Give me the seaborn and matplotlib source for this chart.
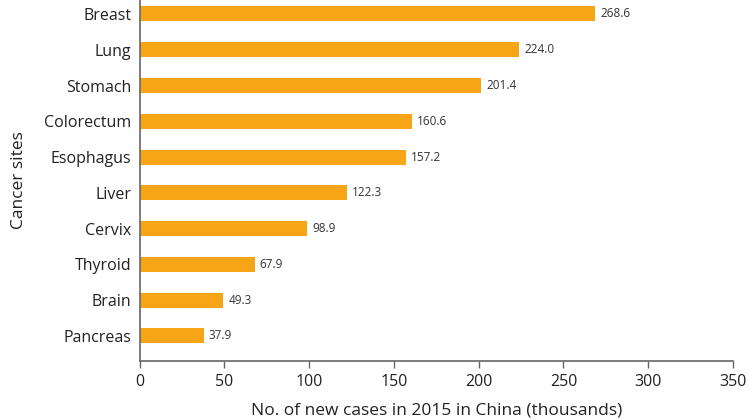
import matplotlib
matplotlib.use("Agg")
import matplotlib.pyplot as plt
import seaborn as sns
import pandas as pd

sites = ["Breast", "Lung", "Stomach", "Colorectum", "Esophagus", "Liver",
         "Cervix", "Thyroid", "Brain", "Pancreas"]
cases = [268.6, 224.0, 201.4, 160.6, 157.2, 122.3, 98.9, 67.9, 49.3, 37.9]
xticks = [0, 50, 100, 150, 200, 250, 300, 350]

sns.set_theme(style="white")
plt.rcParams["font.family"] = ["Open Sans", "DejaVu Sans"]

df = pd.DataFrame({"site": sites, "cases": cases})
fig = plt.figure(figsize=(7.48, 4.19), dpi=100)
ax = fig.add_axes([0.1865, 0.1384, 0.7935, 0.8616])
sns.barplot(data=df, x="cases", y="site", color="#F6A517", saturation=1,
            width=0.42, ax=ax, orient="h")
for p in ax.patches:
    p.set_edgecolor("none")
for i, v in enumerate(cases):
    ax.text(v + 3, i, f"{v:.1f}", va="center", ha="left", fontsize=8.5, color="#333333")

ax.set_xlim(0, 350)
ax.set_ylim(9.7, -0.39)
ax.set_xticks(xticks)
ax.set_xticklabels([str(t) for t in xticks])
ax.set_xlabel("No. of new cases in 2015 in China (thousands)", fontsize=12.5, color="#222222", labelpad=9)
ax.set_ylabel("Cancer sites", fontsize=12.5, color="#222222", labelpad=12)
ax.tick_params(axis="x", length=5, width=1, color="#666666", labelsize=11.5, labelcolor="#222222", pad=4, direction="out")
ax.tick_params(axis="y", length=0, labelsize=11.5, labelcolor="#222222", pad=6)
ax.xaxis.set_ticks_position("bottom")
for s in ["top", "right"]:
    ax.spines[s].set_visible(False)
for s in ["left", "bottom"]:
    ax.spines[s].set_color("#666666")
    ax.spines[s].set_linewidth(1.2)

fig.savefig("out.png", dpi=100)
